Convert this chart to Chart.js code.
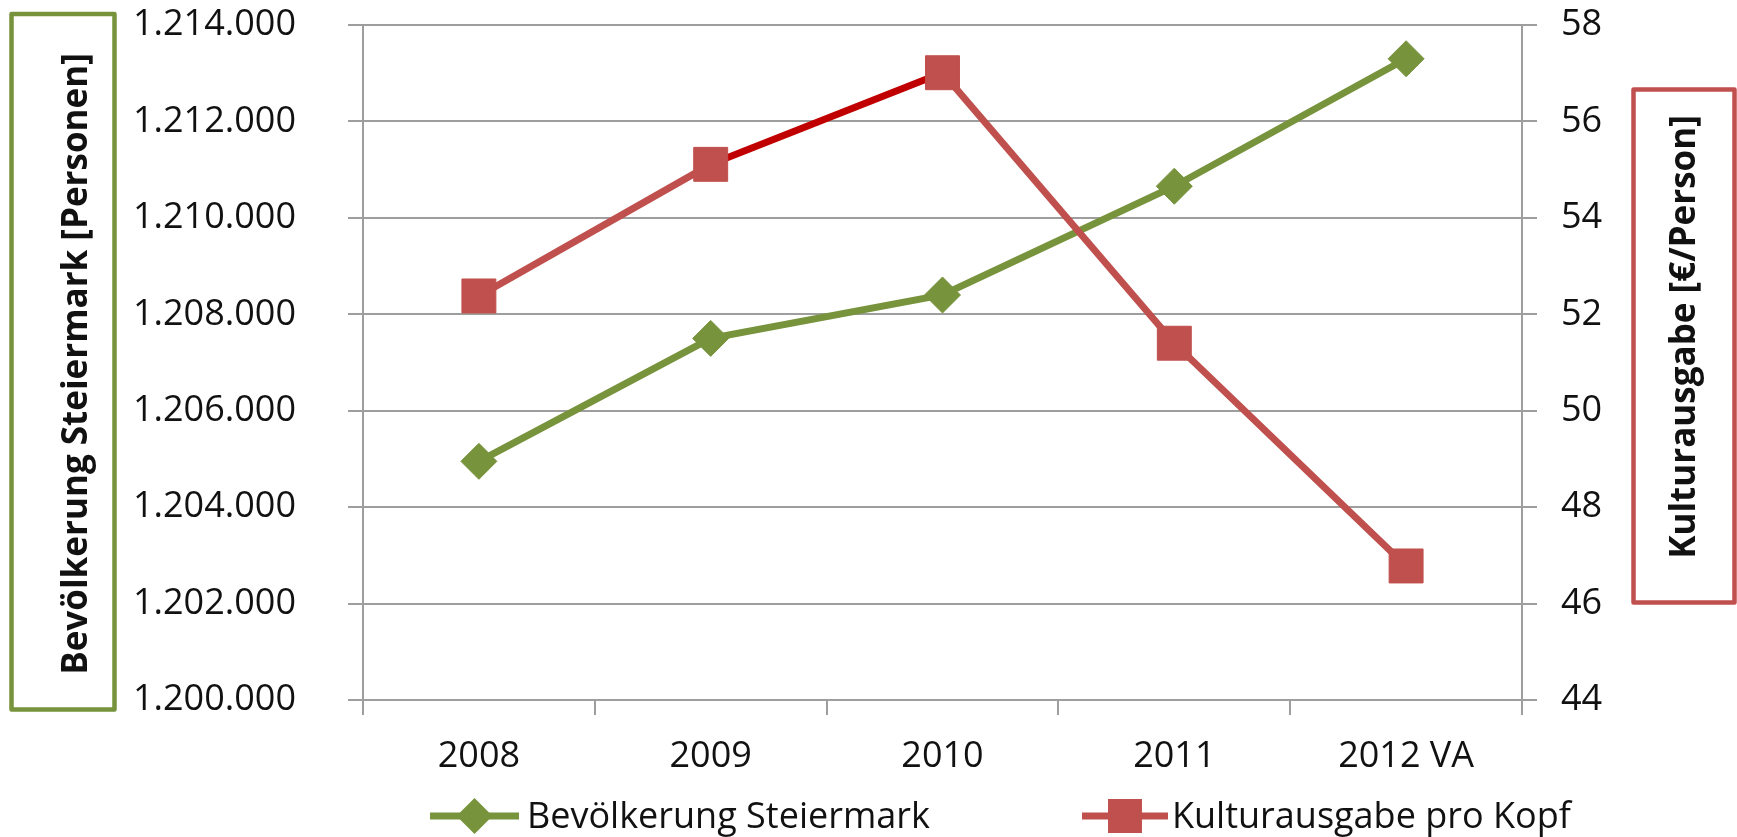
<!DOCTYPE html>
<html>
<head>
<meta charset="utf-8">
<title>Bevölkerung und Kulturausgabe Steiermark</title>
<script src="https://cdn.jsdelivr.net/npm/chart.js@4.4.1/dist/chart.umd.min.js"></script>
<style>
    html, body { margin: 0; padding: 0; background: #fff; }
    #wrap { width: 1737px; height: 837px; position: relative; }
</style>
</head>
<body>
<div id="wrap"><canvas id="chart"></canvas></div>
<script>
(function () {
    "use strict";

    // Data
    const years = ["2008", "2009", "2010", "2011", "2012 VA"];
    const population = [1204950, 1207500, 1208400, 1210656, 1213300];
    const culturePerHead = [52.38, 55.11, 57.01, 51.4, 46.78];
    const populationTicks = [1200000, 1202000, 1204000, 1206000, 1208000, 1210000, 1212000, 1214000];
    const cultureTicks = [44, 46, 48, 50, 52, 54, 56, 58];

    const leftTitle = "Bevölkerung Steiermark [Personen]";
    const rightTitle = "Kulturausgabe [€/Person]";

    const green = "#77933C";
    const red = "#C0504D";
    const darkRed = "#C00000";
    const gridColor = "#9E9E9E";
    const textColor = "#111111";
    const family = "'Open Sans', 'Noto Sans', sans-serif";

    Chart.defaults.font.family = family;
    Chart.defaults.font.size = 36;
    Chart.defaults.color = textColor;

    // thousands separator as in the original (1.214.000)
    const fmt = (v) => String(Math.round(v)).replace(/\B(?=(\d{3})+(?!\d))/g, ".");

    // fixed widths for the side axes, and no extra label padding at top/bottom
    const fixAxis = (width) => (s) => {
        s.width = width;
        s.paddingTop = 0;
        s.paddingBottom = 0;
    };

    // Boxed axis titles
    const axisBoxes = {
        id: "axisBoxes",
        afterDraw(chart) {
            const ctx = chart.ctx;
            const boxes = [
                { text: leftTitle, color: green, x: 11.5, y: 14, w: 103, h: 695.5, base: 87, cy: 364 },
                { text: rightTitle, color: red, x: 1633.5, y: 89.5, w: 101, h: 513, base: 1695, cy: 337 },
            ];
            boxes.forEach((b) => {
                ctx.save();
                ctx.strokeStyle = b.color;
                ctx.lineWidth = 4.5;
                ctx.lineJoin = "round";
                ctx.strokeRect(b.x, b.y, b.w, b.h);
                ctx.translate(b.base, b.cy);
                ctx.rotate(-Math.PI / 2);
                ctx.fillStyle = textColor;
                ctx.font = "bold 35px " + family;
                ctx.textAlign = "center";
                ctx.textBaseline = "alphabetic";
                ctx.fillText(b.text, 0, 0);
                ctx.restore();
            });
        },
    };

    // Excel style legend: line with marker in the middle
    const lineLegend = {
        id: "lineLegend",
        afterDraw(chart) {
            const ctx = chart.ctx;
            const items = [
                { x0: 430, x1: 519, tx: 527 },
                { x0: 1082, x1: 1168, tx: 1172 },
            ];
            const y = 816;
            chart.data.datasets.forEach((ds, i) => {
                const it = items[i];
                const cx = (it.x0 + it.x1) / 2;
                ctx.save();
                ctx.strokeStyle = ds.borderColor;
                ctx.lineWidth = ds.borderWidth;
                ctx.beginPath();
                ctx.moveTo(it.x0, y);
                ctx.lineTo(it.x1, y);
                ctx.stroke();
                ctx.fillStyle = ds.pointBackgroundColor;
                ctx.beginPath();
                if (ds.pointStyle === "rectRot") {
                    const r = ds.pointRadius;
                    ctx.moveTo(cx - r, y);
                    ctx.lineTo(cx, y - r);
                    ctx.lineTo(cx + r, y);
                    ctx.lineTo(cx, y + r);
                    ctx.closePath();
                } else {
                    const s = ds.pointRadius * Math.SQRT1_2;
                    ctx.rect(cx - s, y - s, 2 * s, 2 * s);
                }
                ctx.fill();
                ctx.fillStyle = textColor;
                ctx.font = "36px " + family;
                ctx.textAlign = "left";
                ctx.textBaseline = "alphabetic";
                ctx.fillText(ds.label, it.tx, 828);
                ctx.restore();
            });
        },
    };

    const ctx = document.getElementById("chart").getContext("2d");

    new Chart(ctx, {
        type: "line",
        data: {
            labels: years,
            datasets: [
                {
                    label: "Bevölkerung Steiermark",
                    data: population,
                    yAxisID: "y",
                    order: 1,
                    borderColor: green,
                    borderWidth: 7,
                    pointStyle: "rectRot",
                    pointRadius: 18,
                    pointBackgroundColor: green,
                    pointBorderColor: green,
                    pointBorderWidth: 1,
                    tension: 0,
                },
                {
                    label: "Kulturausgabe pro Kopf",
                    data: culturePerHead,
                    yAxisID: "y1",
                    order: 0,
                    borderColor: red,
                    borderWidth: 7,
                    pointStyle: "rect",
                    pointRadius: 24,
                    pointBackgroundColor: red,
                    pointBorderColor: red,
                    pointBorderWidth: 1,
                    tension: 0,
                    segment: {
                        borderColor: (c) => (c.p0DataIndex === 1 ? darkRed : undefined),
                    },
                },
            ],
        },
        options: {
            responsive: true,
            maintainAspectRatio: false,
            animation: false,
            layout: { padding: { top: 24, left: 0, right: 0, bottom: 0 } },
            plugins: {
                legend: { display: false },
                tooltip: { enabled: false },
            },
            scales: {
                x: {
                    offset: true,
                    grid: {
                        offset: true,
                        drawOnChartArea: false,
                        tickLength: 15,
                        color: gridColor,
                        lineWidth: 2,
                    },
                    border: { color: gridColor, width: 2 },
                    ticks: { padding: 20, maxRotation: 0, autoSkip: false },
                    afterFit: (s) => {
                        s.height = 137;
                    },
                },
                y: {
                    position: "left",
                    min: populationTicks[0],
                    max: populationTicks[populationTicks.length - 1],
                    afterBuildTicks: (s) => {
                        s.ticks = populationTicks.map((v) => ({ value: v }));
                    },
                    ticks: { padding: 52, callback: (v) => fmt(v) },
                    grid: { color: gridColor, lineWidth: 2, tickLength: 15 },
                    border: { color: gridColor, width: 2 },
                    afterFit: fixAxis(363),
                },
                y1: {
                    position: "right",
                    min: cultureTicks[0],
                    max: cultureTicks[cultureTicks.length - 1],
                    afterBuildTicks: (s) => {
                        s.ticks = cultureTicks.map((v) => ({ value: v }));
                    },
                    ticks: { padding: 24 },
                    grid: {
                        drawOnChartArea: false,
                        color: gridColor,
                        lineWidth: 2,
                        tickLength: 15,
                    },
                    border: { color: gridColor, width: 2 },
                    afterFit: fixAxis(215),
                },
            },
        },
        plugins: [axisBoxes, lineLegend],
    });
})();
</script>
</body>
</html>
